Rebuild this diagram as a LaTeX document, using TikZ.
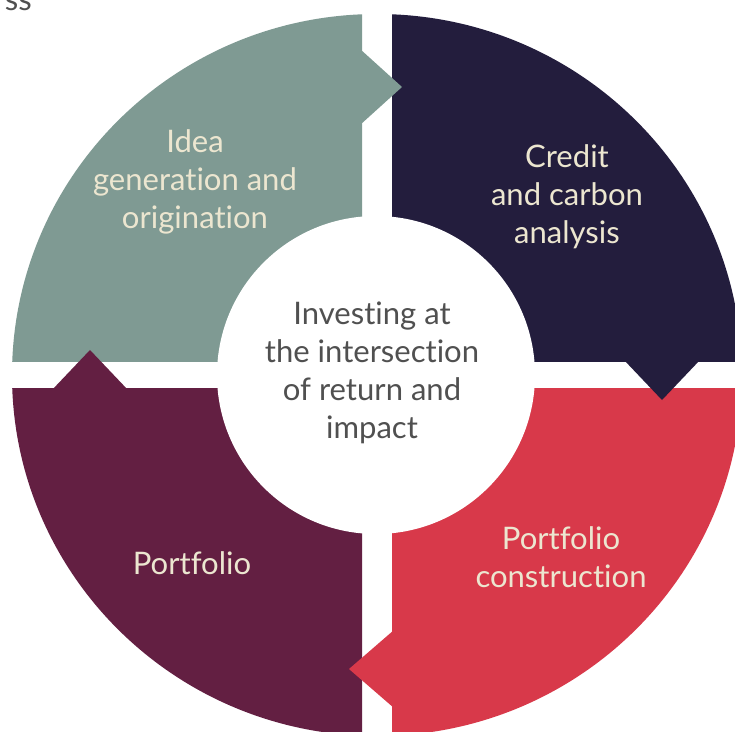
\documentclass[tikz,border=0pt]{standalone}
\usepackage{fontspec}
\setmainfont{Lato}[Ligatures=NoCommon]
\usepackage{tikz}
\usepackage{xcolor}

\definecolor{salvia}{RGB}{127,154,147}
\definecolor{marino}{RGB}{35,29,61}
\definecolor{carmesi}{RGB}{216,57,74}
\definecolor{vino}{RGB}{99,31,66}
\definecolor{crema}{RGB}{236,230,208}
\definecolor{grisTexto}{RGB}{80,80,80}

\begin{document}
\begin{tikzpicture}[
	x=0.03cm, y=0.03cm,
	etiqueta/.style={
		align=center,
		font=\fontsize{26.5}{32.6}\selectfont,
		text=crema
	}
	]
	
	\useasboundingbox (-377,-356) rectangle (358,375);
	
	% Cuadrantes
	\foreach \col/\sx/\sy in {salvia/-1/1, marino/1/1, carmesi/1/-1, vino/-1/-1}{
		\begin{scope}
			\clip (\sx*15,\sy*13.5) rectangle (\sx*420,\sy*420);
			\fill[\col] (0,0) ellipse [x radius=365, y radius=361];
		\end{scope}
	}
	
	% Flechas
	\fill[salvia] (-17,326) -- (25,288) -- (-17,250) -- cycle;
	\fill[marino] (247,15) -- (285,-25) -- (323,15) -- cycle;
	\fill[carmesi] (17,-255) -- (-28,-294) -- (17,-333) -- cycle;
	\fill[vino] (-325,-15) -- (-287,25) -- (-249,-15) -- cycle;
	
	% Centro
	\fill[white] (-1,0) circle (159);
	
	% Etiquetas
	\node[etiqueta] (idea) at (-182,193) {Idea\\generation and\\origination};
	\node[etiqueta] (credito) at (190,178) {Credit\\and carbon\\analysis};
	\node[etiqueta] (construccion) at (184,-182) {Portfolio\\construction};
	\node[etiqueta] (cartera) at (-185,-188) {Portfolio};
	\node[etiqueta, text=grisTexto] (centro) at (-5,2)
	{Investing at\\the intersection\\of return and\\impact};
	
	% Texto cortado arriba
	\node[anchor=base east, inner sep=0pt, text=grisTexto,
	font=\fontsize{26.5}{32.6}\selectfont] (resto) at (-345,364) {ss};
	
\end{tikzpicture}
\end{document}
